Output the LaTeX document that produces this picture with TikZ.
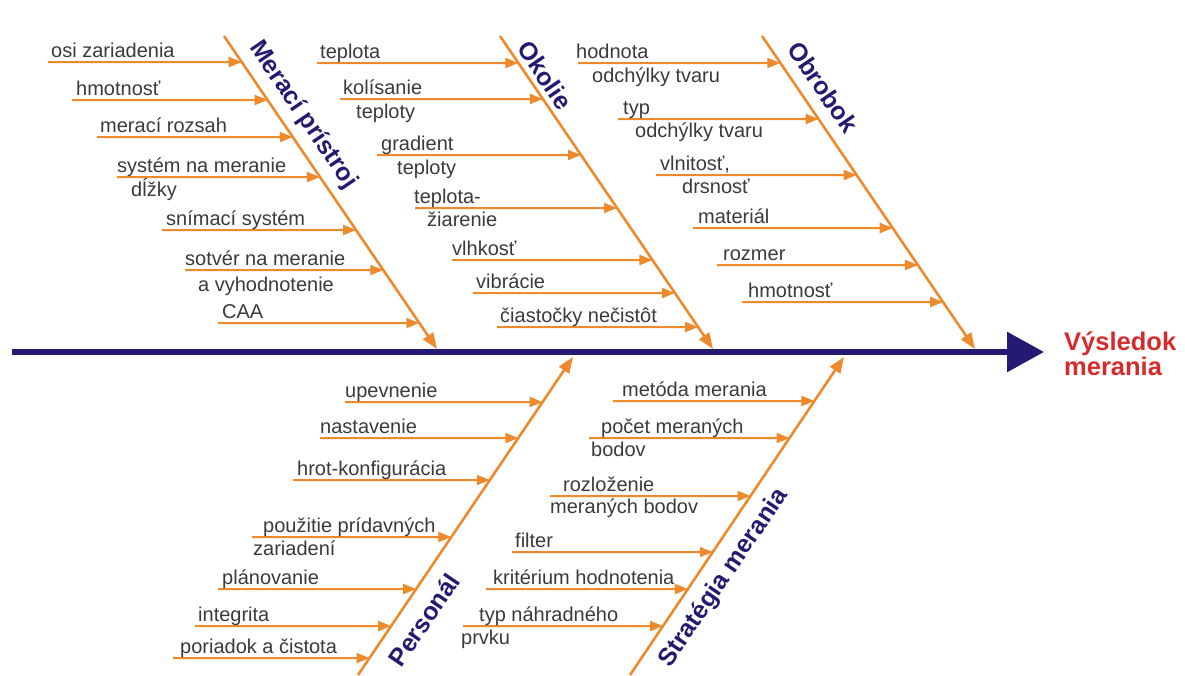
\documentclass[tikz,border=0pt]{standalone}
\usepackage{fontspec}
\setmainfont{Liberation Sans}
\usetikzlibrary{arrows.meta}
\definecolor{bonec}{HTML}{EE8A2C}
\definecolor{navyc}{HTML}{231A72}
\definecolor{txtc}{HTML}{3A3A3A}
\definecolor{resc}{HTML}{D72B2B}
\tikzset{
  spine/.style={draw=navyc,line width=6pt,-{Triangle[length=37pt,width=39pt]}},
  bone/.style={draw=bonec,line width=2.6pt,-{Triangle[length=16pt,width=12pt]}},
  twig/.style={draw=bonec,line width=2pt,-{Triangle[length=13pt,width=10pt]}},
  lbl/.style={inner sep=0pt,anchor=base west,text=txtc,font=\fontsize{20}{23}\selectfont},
  cat/.style={inner sep=0pt,anchor=center,text=navyc,font=\fontsize{25}{29}\selectfont\bfseries},
  res/.style={inner sep=0pt,anchor=base west,text=resc,font=\fontsize{25.5}{29}\selectfont\bfseries}
}
\newcommand\twig[4]{%
  \coordinate (#1s) at (#3,#4);
  \coordinate (#1h) at (#3+50,#4);
  \coordinate (#1e) at (intersection of #2a--#2b and #1s--#1h);
  \draw[twig] (#1s) -- (#1e);}
\begin{document}
\begin{tikzpicture}[x=1pt,y=-1pt]
\useasboundingbox (0,0) rectangle (1185,675);
% spine
\coordinate (tail) at (12,352);
\coordinate (head) at (1044,352);
\draw[spine] (tail) -- (head);
% bones
\coordinate (Ma) at (224,36);  \coordinate (Mb) at (437,349);
\coordinate (Oa) at (500,36);  \coordinate (Ob) at (713,349);
\coordinate (Ba) at (762,36);  \coordinate (Bb) at (975,349);
\coordinate (Pa) at (358,675); \coordinate (Pb) at (573,357);
\coordinate (Sa) at (630,675); \coordinate (Sb) at (844,357);
\draw[bone] (Ma) -- (Mb);
\draw[bone] (Oa) -- (Ob);
\draw[bone] (Ba) -- (Bb);
\draw[bone] (Pa) -- (Pb);
\draw[bone] (Sa) -- (Sb);
% category labels
\node[cat,rotate=-55.7] (cM) at (303,115) {Merací prístroj};
\node[cat,rotate=-55.7] (cO) at (545,75) {Okolie};
\node[cat,rotate=-55.7] (cB) at (823,87) {Obrobok};
\node[cat,rotate=55.7] (cP) at (424,620) {Personál};
\node[cat,rotate=55.7] (cS) at (724,578) {Stratégia merania};
% result
\node[res] (r1) at (1064,350) {Výsledok};
\node[res] (r2) at (1064,375) {merania};
% Merací prístroj
\twig{m1}{M}{48}{62}   \node[lbl] (tm1) at (51,57) {osi zariadenia};
\twig{m2}{M}{72}{100}  \node[lbl] (tm2) at (76,95) {hmotnosť};
\twig{m3}{M}{97}{137}  \node[lbl] (tm3) at (100,132) {merací rozsah};
\twig{m4}{M}{117}{177} \node[lbl] (tm4) at (117,172) {systém na meranie};
                       \node[lbl] (tm4b) at (131,196) {dĺžky};
\twig{m5}{M}{162}{230} \node[lbl] (tm5) at (166,225) {snímací systém};
\twig{m6}{M}{185}{270} \node[lbl] (tm6) at (185,265) {sotvér na meranie};
                       \node[lbl] (tm6b) at (198,291) {a vyhodnotenie};
\twig{m7}{M}{218}{323} \node[lbl] (tm7) at (222,318) {CAA};
% Okolie
\twig{o1}{O}{317}{63}  \node[lbl] (to1) at (320,58) {teplota};
\twig{o2}{O}{340}{99}  \node[lbl] (to2) at (343,94) {kolísanie};
                       \node[lbl] (to2b) at (356,118) {teploty};
\twig{o3}{O}{377}{155} \node[lbl] (to3) at (381,150) {gradient};
                       \node[lbl] (to3b) at (397,174) {teploty};
\twig{o4}{O}{415}{208} \node[lbl] (to4) at (414,203) {teplota-};
                       \node[lbl] (to4b) at (427,226) {žiarenie};
\twig{o5}{O}{452}{260} \node[lbl] (to5) at (452,255) {vlhkosť};
\twig{o6}{O}{473}{293} \node[lbl] (to6) at (476,288) {vibrácie};
\twig{o7}{O}{497}{327} \node[lbl] (to7) at (500,322) {čiastočky nečistôt};
% Obrobok
\twig{b1}{B}{578}{63}  \node[lbl] (tb1) at (576,58) {hodnota};
                       \node[lbl] (tb1b) at (592,82) {odchýlky tvaru};
\twig{b2}{B}{618}{119} \node[lbl] (tb2) at (623,114) {typ};
                       \node[lbl] (tb2b) at (635,137) {odchýlky tvaru};
\twig{b3}{B}{656}{175} \node[lbl] (tb3) at (660,170) {vlnitosť,};
                       \node[lbl] (tb3b) at (682,193) {drsnosť};
\twig{b4}{B}{693}{228} \node[lbl] (tb4) at (698,223) {materiál};
\twig{b5}{B}{717}{265} \node[lbl] (tb5) at (723,260) {rozmer};
\twig{b6}{B}{742}{302} \node[lbl] (tb6) at (748,297) {hmotnosť};
% Personál
\twig{p1}{P}{345}{402} \node[lbl] (tp1) at (345,397) {upevnenie};
\twig{p2}{P}{320}{438} \node[lbl] (tp2) at (320,433) {nastavenie};
\twig{p3}{P}{293}{480} \node[lbl] (tp3) at (297,475) {hrot-konfigurácia};
\twig{p4}{P}{252}{537} \node[lbl] (tp4) at (263,532) {použitie prídavných};
                       \node[lbl] (tp4b) at (253,555) {zariadení};
\twig{p5}{P}{218}{589} \node[lbl] (tp5) at (222,584) {plánovanie};
\twig{p6}{P}{195}{626} \node[lbl] (tp6) at (198,621) {integrita};
\twig{p7}{P}{173}{658} \node[lbl] (tp7) at (180,653) {poriadok a čistota};
% Stratégia merania
\twig{s1}{S}{613}{401} \node[lbl] (ts1) at (622,396) {metóda merania};
\twig{s2}{S}{589}{438} \node[lbl] (ts2) at (601,433) {počet meraných};
                       \node[lbl] (ts2b) at (591,456) {bodov};
\twig{s3}{S}{550}{496} \node[lbl] (ts3) at (563,491) {rozloženie};
                       \node[lbl] (ts3b) at (550,513) {meraných bodov};
\twig{s4}{S}{512}{552} \node[lbl] (ts4) at (515,547) {filter};
\twig{s5}{S}{486}{589} \node[lbl] (ts5) at (493,584) {kritérium hodnotenia};
\twig{s6}{S}{463}{626} \node[lbl] (ts6) at (479,621) {typ náhradného};
                       \node[lbl] (ts6b) at (461,644) {prvku};
\end{tikzpicture}
\end{document}
